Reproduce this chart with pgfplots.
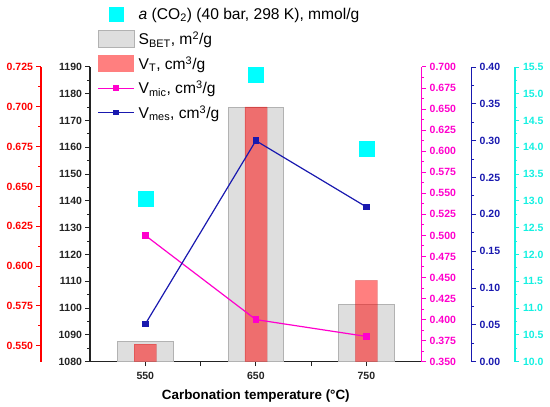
\documentclass[border=0pt]{standalone}
\usepackage{fontspec}
\setmainfont{Liberation Sans}
\usepackage{pgfplots}
\pgfplotsset{compat=1.18}
\definecolor{mag}{RGB}{255,0,204}
\definecolor{navy}{RGB}{25,25,175}
\definecolor{cyn}{RGB}{0,255,255}
\definecolor{cyntext}{RGB}{20,240,225}
\definecolor{tickblack}{RGB}{35,35,35}
\newcommand{\tfont}{\fontsize{10.5}{12}\selectfont\bfseries}
\pgfplotsset{
  base/.style={scale only axis, width=331.7pt, height=294.7pt,
    xmin=500, xmax=800,
    tick align=outside, major tick length=4.5pt, minor tick length=2.5pt,
    every tick/.append style={line width=1pt},
    axis line style={line width=1.1pt},
    ticklabel style={font=\tfont},
    minor y tick num=1},
  yfmt/.style={yticklabel style={/pgf/number format/fixed, /pgf/number format/fixed zerofill, /pgf/number format/precision=#1, /pgf/number format/assume math mode=true}},
  ycol/.style={y axis line style={draw=#1}, every y tick/.append style={draw=#1},
    every minor y tick/.append style={draw=#1}, yticklabel style={text=#1}},
}
\pgfplotstableread{
x SBET VT Vmic Vmes a
550 1087.4 0.551 0.500 0.051 13.05
650 1175.0 0.700 0.400 0.300 15.36
750 1101.4 0.591 0.380 0.210 13.97
}\datatable
\begin{document}
\begin{tikzpicture}
% main black axis with S_BET bars
\begin{axis}[base, ymin=1080, ymax=1190,
  axis x line*=bottom, axis y line*=left,
  ytick={1080,1090,1100,1110,1120,1130,1140,1150,1160,1170,1180,1190},
  xtick={550,600,650,700,750}, xticklabels={550,,650,,750},
  yticklabel style={/pgf/number format/1000 sep={}, /pgf/number format/assume math mode=true},
  xticklabel style={/pgf/number format/1000 sep={}, /pgf/number format/assume math mode=true},
  ycol=tickblack, x axis line style={draw=tickblack}, every x tick/.append style={draw=tickblack},
  xticklabel style={text=tickblack, yshift=-2pt},
  xlabel={Carbonation temperature (°C)},
  xlabel style={font=\fontsize{13.4}{15}\selectfont\bfseries, yshift=-4pt},
]
\addplot[ybar, bar width=50, bar shift=0pt, fill=black!13, draw=black!30, line width=0.8pt]
  table[x=x, y=SBET] {\datatable};
\end{axis}
% red axis with V_T bars
\begin{axis}[base, ymin=0.540, ymax=0.725, hide x axis,
  axis y line*=left, axis y line shift=49pt,
  ytick={0.550,0.575,0.600,0.625,0.650,0.675,0.700,0.725},
  yfmt=3, ycol=red]
\addplot[ybar, bar width=20, bar shift=0pt, fill=red, fill opacity=0.5, draw=red!70!black, draw opacity=0.2]
  table[x=x, y=VT] {\datatable};
\end{axis}
% magenta axis with V_mic
\begin{axis}[base, ymin=0.350, ymax=0.700, hide x axis,
  axis y line*=right,
  ytick={0.350,0.375,0.400,0.425,0.450,0.475,0.500,0.525,0.550,0.575,0.600,0.625,0.650,0.675,0.700},
  yfmt=3, ycol=mag]
\addplot[mag, line width=1.2pt, mark=square*, mark size=2.7pt, mark options={fill=mag, draw=mag}]
  table[x=x, y=Vmic] {\datatable};
\end{axis}
% blue axis with V_mes
\begin{axis}[base, ymin=0, ymax=0.40, hide x axis,
  axis y line*=right, axis y line shift=50pt,
  ytick={0,0.05,0.10,0.15,0.20,0.25,0.30,0.35,0.40},
  yfmt=2, ycol=navy]
\addplot[navy, line width=1.2pt, mark=square*, mark size=2.7pt, mark options={fill=navy, draw=navy}]
  table[x=x, y=Vmes] {\datatable};
\end{axis}
% cyan axis with a(CO2)
\begin{axis}[base, ymin=10, ymax=15.5, hide x axis,
  axis y line*=right, axis y line shift=93.3pt,
  ytick={10.0,10.5,11.0,11.5,12.0,12.5,13.0,13.5,14.0,14.5,15.0,15.5},
  yfmt=1, ycol=cyntext,
  legend style={at={(axis description cs:0.022,1.2104)}, anchor=north west,
    draw=none, fill=none, inner sep=0pt, row sep=6.6pt, /tikz/column sep=4pt,
    nodes={inner sep=0pt, font=\fontsize{15.6}{17}\selectfont}},
  legend cell align=left]
\addplot[only marks, mark=square*, mark size=7.5pt, mark options={fill=cyn, draw=cyn}, forget plot]
  table[x=x, y=a] {\datatable};
\addlegendimage{legend image code/.code={\path[draw=none, fill=none] (0pt,-9pt) rectangle (36pt,9pt); \fill[cyn, draw=none] (10.5pt,-7.5pt) rectangle (25.5pt,7.5pt);}}
\addlegendentry{\textit{a} (CO\textsubscript{2}) (40 bar, 298 K), mmol/g}
\addlegendimage{legend image code/.code={\path[draw=none, fill=none] (0pt,-9pt) rectangle (36pt,9pt); \draw[fill=black!13, draw=black!30, line width=0.8pt] (0pt,-8.7pt) rectangle (36pt,8.7pt);}}
\addlegendentry{S\textsubscript{BET}, m\textsuperscript{2}/g}
\addlegendimage{legend image code/.code={\path[draw=none, fill=none] (0pt,-9pt) rectangle (36pt,9pt); \fill[red, fill opacity=0.5, draw=none] (0pt,-8.2pt) rectangle (36pt,8.2pt);}}
\addlegendentry{V\textsubscript{T}, cm\textsuperscript{3}/g}
\addlegendimage{legend image code/.code={\path[draw=none, fill=none] (0pt,-9pt) rectangle (36pt,9pt); \draw[mag, line width=1.2pt] (0pt,0pt) -- (36pt,0pt); \fill[mag, draw=none] (15.3pt,-2.7pt) rectangle (20.7pt,2.7pt);}}
\addlegendentry{V\textsubscript{mic}, cm\textsuperscript{3}/g}
\addlegendimage{legend image code/.code={\path[draw=none, fill=none] (0pt,-9pt) rectangle (36pt,9pt); \draw[navy, line width=1.2pt] (0pt,0pt) -- (36pt,0pt); \fill[navy, draw=none] (15.3pt,-2.7pt) rectangle (20.7pt,2.7pt);}}
\addlegendentry{V\textsubscript{mes}, cm\textsuperscript{3}/g}
\end{axis}
\pgfresetboundingbox
\path (-90pt,-45.3pt) rectangle (460pt,361.7pt);
\end{tikzpicture}
\end{document}
